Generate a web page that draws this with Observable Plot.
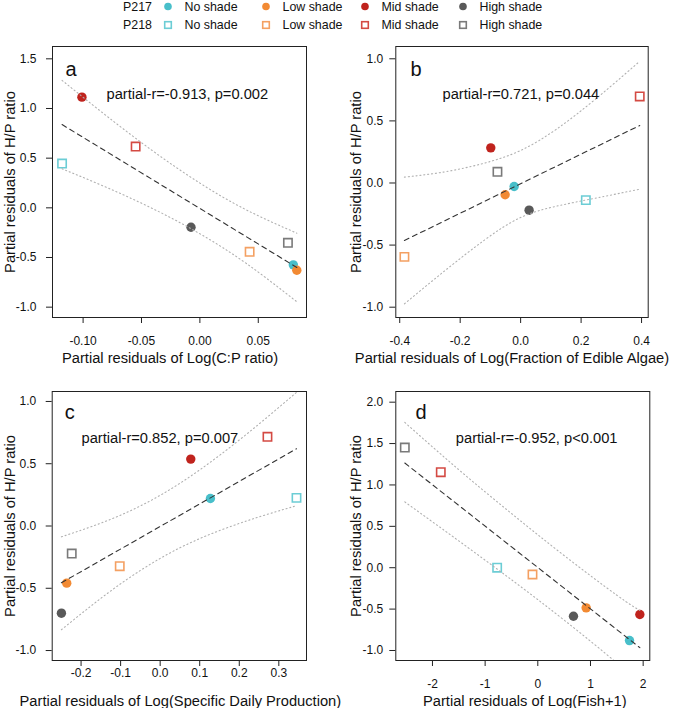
<!DOCTYPE html>
<html>
<head>
<meta charset="utf-8">
<script src="https://cdn.jsdelivr.net/npm/d3@7"></script>
<script src="https://cdn.jsdelivr.net/npm/@observablehq/plot@0.6"></script>
<style>
  body { margin: 0; background: #fff; font-family: "Liberation Sans", Arial, Helvetica, sans-serif; }
  #wrap { position: relative; width: 673px; height: 708px; overflow: hidden; background: #fff; }
  .panel { position: absolute; }
  #legend { position: absolute; left: 0; top: 0; }
</style>
</head>
<body>
<div id="wrap"></div>
<script>
// ---------------- data ----------------
const shades = ["No shade", "Low shade", "Mid shade", "High shade"];
const ponds = ["P217", "P218"];
const fillColors = ["#48bfca", "#f28a33", "#c0231d", "#595959"];
const strokeColors = ["#6ccdd5", "#f4a062", "#d44a43", "#7a7a7a"];
// point order: P217 No, Low, Mid, High, then P218 No, Low, Mid, High
const pointPond = ["P217", "P217", "P217", "P217", "P218", "P218", "P218", "P218"];
const pointShade = ["No shade", "Low shade", "Mid shade", "High shade", "No shade", "Low shade", "Mid shade", "High shade"];
const yTitle = "Partial residuals of H/P ratio";

// panel a
const aX = [0.080, 0.083, -0.101, -0.0076, -0.118, 0.0426, -0.055, 0.0754];
const aY = [-0.574, -0.628, 1.114, -0.195, 0.446, -0.443, 0.617, -0.352];
const aFitX = [-0.118, 0.083];
const aFitY = [0.838, -0.600];
const aBandX = [-0.118, -0.08, -0.04, 0, 0.04, 0.083];
const aBandUpper = [1.283, 0.926, 0.570, 0.249, -0.022, -0.255];
const aBandLower = [0.393, 0.206, -0.010, -0.261, -0.562, -0.945];
const aXTicks = [-0.10, -0.05, 0.00, 0.05];
const aYTicks = [-1.0, -0.5, 0.0, 0.5, 1.0, 1.5];
const aStat = "partial-r=-0.913, p=0.002";
const aXTitle = "Partial residuals of Log(C:P ratio)";

// panel b
const bX = [-0.0215, -0.0513, -0.0988, 0.028, 0.2157, -0.3845, 0.394, -0.0767];
const bY = [-0.028, -0.095, 0.283, -0.219, -0.138, -0.595, 0.697, 0.090];
const bFitX = [-0.3845, 0.394];
const bFitY = [-0.463, 0.463];
const bBandX = [-0.3845, -0.25, -0.12, 0, 0.12, 0.25, 0.394];
const bBandUpper = [0.047, 0.09, 0.16, 0.262, 0.436, 0.68, 0.98];
const bBandLower = [-0.973, -0.705, -0.46, -0.278, -0.186, -0.121, -0.05];
const bXTicks = [-0.4, -0.2, 0.0, 0.2, 0.4];
const bYTicks = [-1.0, -0.5, 0.0, 0.5, 1.0];
const bStat = "partial-r=0.721, p=0.044";
const bXTitle = "Partial residuals of Log(Fraction of Edible Algae)";

// panel c
const cX = [0.127, -0.2363, 0.0774, -0.2497, 0.3447, -0.1022, 0.2713, -0.2236];
const cY = [0.221, -0.459, 0.537, -0.700, 0.226, -0.323, 0.716, -0.221];
const cFitX = [-0.2497, 0.3447];
const cFitY = [-0.456, 0.620];
const cBandX = [-0.2497, -0.15, -0.05, 0.05, 0.15, 0.25, 0.3447];
const cBandUpper = [-0.087, 0.023, 0.161, 0.343, 0.567, 0.819, 1.073];
const cBandLower = [-0.833, -0.581, -0.357, -0.175, -0.037, 0.073, 0.163];
const cXTicks = [-0.2, -0.1, 0.0, 0.1, 0.2, 0.3];
const cYTicks = [-1.0, -0.5, 0.0, 0.5, 1.0];
const cStat = "partial-r=0.852, p=0.007";
const cXTitle = "Partial residuals of Log(Specific Daily Production)";

// panel d
const dX = [1.741, 0.918, 1.937, 0.677, -0.772, -0.101, -1.842, -2.525];
const dY = [-0.880, -0.485, -0.565, -0.586, 0.0, -0.082, 1.154, 1.452];
const dFitX = [-2.525, 1.937];
const dFitY = [1.265, -0.966];
const dBandX = [-2.525, -1.5, -0.5, 0.5, 1.5, 1.937];
const dBandUpper = [1.755, 1.184, 0.655, 0.147, -0.332, -0.516];
const dBandLower = [0.795, 0.324, -0.145, -0.633, -1.152, -1.416];
const dXTicks = [-2, -1, 0, 1, 2];
const dYTicks = [-1.0, -0.5, 0.0, 0.5, 1.0, 1.5, 2.0];
const dStat = "partial-r=-0.952, p<0.001";
const dXTitle = "Partial residuals of Log(Fish+1)";

// ---------------- drawing ----------------
const FONT = "'Liberation Sans', Arial, Helvetica, sans-serif";
const TITLE_SIZE = 14.7;
const wrap = document.getElementById("wrap");

function rows(xs, ys) {
  return xs.map((x, i) => ({x, y: ys[i], pond: pointPond[i], shade: pointShade[i]}));
}
function pts(xs, ys) { return xs.map((x, i) => ({x, y: ys[i]})); }

function panel(cfg) {
  const data = rows(cfg.xs, cfg.ys);
  const filled = data.filter(d => d.pond === "P217");
  const open = data.filter(d => d.pond === "P218");
  const bandStyle = {x: "x", y: "y", curve: "natural", stroke: "#b0b0b0", strokeWidth: 1.1, strokeDasharray: "1.1,2.8", clip: true};
  const svg = Plot.plot({
    width: cfg.width, height: cfg.height,
    marginLeft: cfg.mL, marginRight: cfg.mR, marginTop: cfg.mT, marginBottom: cfg.mB,
    style: {fontFamily: FONT, overflow: "visible", background: "transparent", color: "#111"},
    x: {domain: cfg.xDomain},
    y: {domain: cfg.yDomain},
    color: {type: "identity"},
    marks: [
      Plot.dot(filled, {x: "x", y: "y", r: 4.7, fill: d => fillColors[shades.indexOf(d.shade)], stroke: "none"}),
      Plot.dot(open, {x: "x", y: "y", r: 4.7, symbol: "square", fill: "none", strokeWidth: 1.6,
        stroke: d => strokeColors[shades.indexOf(d.shade)]}),
      Plot.line(pts(cfg.bandX, cfg.bandUpper), bandStyle),
      Plot.line(pts(cfg.bandX, cfg.bandLower), bandStyle),
      Plot.line(pts(cfg.fitX, cfg.fitY), {x: "x", y: "y", stroke: "#333", strokeWidth: 1.1, strokeDasharray: "5,4"}),
      Plot.frame({stroke: "#222", strokeWidth: 1}),
      Plot.axisX({ticks: cfg.xTicks, tickFormat: d => d.toFixed(cfg.xDigits), tickSize: 6, tickPadding: cfg.xPad, fontSize: 12, label: null, stroke: "#222"}),
      Plot.axisY({ticks: cfg.yTicks, tickFormat: d => d.toFixed(1), tickSize: 6, tickPadding: cfg.yPad, fontSize: 12, label: null, stroke: "#222"}),
      Plot.text([cfg.letter], {text: d => d, frameAnchor: "top-left", dx: cfg.letterDx, dy: cfg.letterDy, fontSize: 20, textAnchor: "start", lineAnchor: "middle", fill: "#111"}),
      Plot.text([cfg.stat], {text: d => d, frameAnchor: "top-left", dx: cfg.statDx, dy: cfg.statDy, fontSize: TITLE_SIZE, textAnchor: "start", lineAnchor: "middle", fill: "#111"}),
      Plot.text([cfg.xTitle], {text: d => d, frameAnchor: "bottom", dx: cfg.xTitleDx, dy: 41, fontSize: TITLE_SIZE, textAnchor: "middle", lineAnchor: "middle", fill: "#111"}),
      Plot.text([yTitle], {text: d => d, frameAnchor: "left", rotate: -90, dx: cfg.yTitleDx, fontSize: TITLE_SIZE, textAnchor: "middle", lineAnchor: "middle", fill: "#111"})
    ]
  });
  const div = document.createElement("div");
  div.className = "panel";
  div.style.left = cfg.left + "px";
  div.style.top = cfg.top + "px";
  div.style.width = cfg.width + "px";
  div.appendChild(svg);
  wrap.appendChild(div);
}

panel({left: 0, top: 40, width: 336, height: 340, mL: 52, mR: 30, mT: 6, mB: 63,
  xs: aX, ys: aY, fitX: aFitX, fitY: aFitY, bandX: aBandX, bandUpper: aBandUpper, bandLower: aBandLower,
  xDomain: [-0.1262, 0.0913], yDomain: [-1.104, 1.624], xTicks: aXTicks, yTicks: aYTicks, xDigits: 2,
  xPad: 12.7, yPad: 10, letter: "a", letterDx: 13, letterDy: 22.6, stat: aStat, statDx: 54, statDy: 47.5,
  xTitle: aXTitle, xTitleDx: -9.5, yTitleDx: -42});

panel({left: 336, top: 40, width: 337, height: 340, mL: 59.3, mR: 25.3, mT: 6, mB: 63,
  xs: bX, ys: bY, fitX: bFitX, fitY: bFitY, bandX: bBandX, bandUpper: bBandUpper, bandLower: bBandLower,
  xDomain: [-0.413, 0.422], yDomain: [-1.083, 1.099], xTicks: bXTicks, yTicks: bYTicks, xDigits: 1,
  xPad: 12.7, yPad: 6.6, letter: "b", letterDx: 14.7, letterDy: 22.6, stat: bStat, statDx: 46.7, statDy: 47.5,
  xTitle: bXTitle, xTitleDx: -10, yTitleDx: -39.3});

panel({left: 0, top: 380, width: 336, height: 328, mL: 51.7, mR: 30, mT: 11, mB: 48,
  xs: cX, ys: cY, fitX: cFitX, fitY: cFitY, bandX: cBandX, bandUpper: cBandUpper, bandLower: cBandLower,
  xDomain: [-0.273, 0.370], yDomain: [-1.080, 1.080], xTicks: cXTicks, yTicks: cYTicks, xDigits: 1,
  xPad: 2.4, yPad: 10, letter: "c", letterDx: 12.6, letterDy: 20.6, stat: cStat, statDx: 29.3, statDy: 46.5,
  xTitle: cXTitle, xTitleDx: 1, yTitleDx: -41.7});

panel({left: 336, top: 380, width: 337, height: 328, mL: 59.3, mR: 23.7, mT: 11, mB: 48,
  xs: dX, ys: dY, fitX: dFitX, fitY: dFitY, bandX: dBandX, bandUpper: dBandUpper, bandLower: dBandLower,
  xDomain: [-2.696, 2.126], yDomain: [-1.121, 2.129], xTicks: dXTicks, yTicks: dYTicks, xDigits: 0,
  xPad: 12.7, yPad: 6.6, letter: "d", letterDx: 19.7, letterDy: 20.9, stat: dStat, statDx: 60, statDy: 46.5,
  xTitle: dXTitle, xTitleDx: 2, yTitleDx: -39.3});

// ---------------- legend ----------------
const legendSymX = [168, 266, 365, 463];
const legendRowY = [6.5, 25];
const leg = d3.select(wrap).append("svg").attr("id", "legend").attr("width", 673).attr("height", 38)
  .style("font-family", FONT).style("font-size", "12.4px");
ponds.forEach((p, r) => {
  const y = legendRowY[r];
  leg.append("text").attr("x", 152).attr("y", y).attr("dy", "0.35em").attr("text-anchor", "end").attr("fill", "#111").text(p);
  shades.forEach((s, i) => {
    const x = legendSymX[i];
    if (r === 0) {
      leg.append("circle").attr("cx", x).attr("cy", y).attr("r", 3.8).attr("fill", fillColors[i]);
    } else {
      leg.append("rect").attr("x", x - 3.3).attr("y", y - 3.3).attr("width", 6.6).attr("height", 6.6)
        .attr("fill", "none").attr("stroke", strokeColors[i]).attr("stroke-width", 1.6);
    }
    leg.append("text").attr("x", x + 16.5).attr("y", y).attr("dy", "0.35em").attr("fill", "#111").text(s);
  });
});
</script>
</body>
</html>
